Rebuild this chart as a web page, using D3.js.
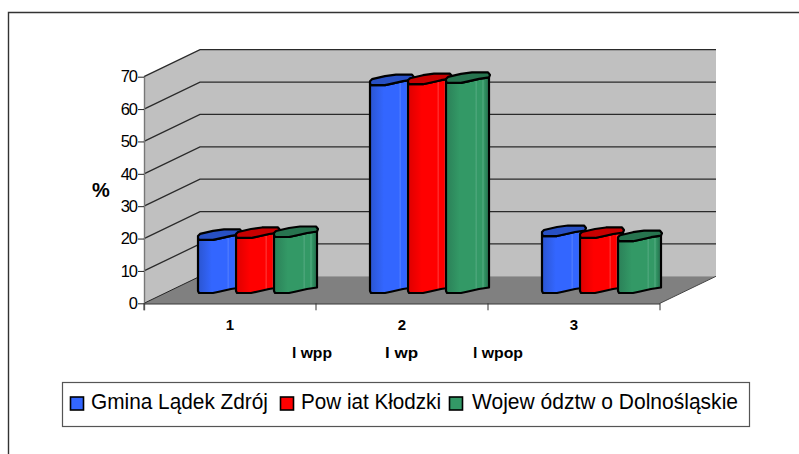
<!DOCTYPE html>
<html><head><meta charset="utf-8">
<script src="https://cdnjs.cloudflare.com/ajax/libs/d3/7.8.5/d3.min.js"></script>
<style>html,body{margin:0;padding:0;background:#fff}svg{display:block}text{font-family:"Liberation Sans",Arial,sans-serif;fill:#000}</style>
</head><body><svg id="c" width="799" height="454"></svg>
<script>
const categories = ["1","2","3"];
const seriesNames = ["Gmina Lądek Zdrój","Pow iat Kłodzki","Wojew ództw o Dolnośląskie"];
const gmina = [16.4, 64.2, 17.6];
const powiat = [17.0, 64.5, 17.0];
const wojewodztwo = [17.3, 64.9, 16.0];
const yTicks = [0,10,20,30,40,50,60,70];
const subLabels = ["l wpp","l wp","l wpop"];
const colors = ["#3366ff","#ff0000","#339966"];
const darkSide = ["#2b55d0","#dd0000","#2b8058"];
const topFace = ["#2850c4","#c80000","#27744f"];
const lightStripe = ["#5c86ff","#ff4a4a","#5cae88"];

const svg = d3.select("#c");
const left=144,right=660,y0=303.3,y70=76.7,dx=56,dy=27;
const y = d3.scaleLinear().domain([0,70]).range([y0,y70]);
const x = d3.scaleBand().domain(categories).range([left,right]);
const seriesX = d3.scaleBand().domain([0,1,2]).range([29,143]);

// outer frame
svg.append("path").attr("d","M8.5,454V12.5H799").attr("fill","none").attr("stroke","#333").attr("stroke-width",1.4);

// walls and floor
svg.append("path").attr("d",d3.line()([[left,y(70)],[left+dx,y(70)-dy],[left+dx,y(0)-dy],[left,y(0)]])).attr("fill","#c0c0c0");
svg.append("path").attr("d",d3.line()([[left+dx,y(70)-dy],[right+dx,y(70)-dy],[right+dx,y(0)-dy],[left+dx,y(0)-dy]])).attr("fill","#c0c0c0");
svg.append("path").attr("d",d3.line()([[left,y(0)],[left+dx,y(0)-dy],[right+dx,y(0)-dy],[right,y(0)]])).attr("fill","#808080");

// gridlines
svg.append("g").selectAll("path").data(yTicks.filter(t=>t>0)).join("path")
  .attr("d",t=>d3.line()([[left,y(t)],[left+dx,y(t)-dy],[right+dx,y(t)-dy]]))
  .attr("fill","none").attr("stroke","#2a2a2a").attr("stroke-width",1.3);
svg.append("path").attr("d",d3.line()([[left,y(0)],[left+dx,y(0)-dy]])).attr("fill","none").attr("stroke","#222").attr("stroke-width",1);
svg.append("path").attr("d",d3.line()([[right,y(0)],[right+dx,y(0)-dy]])).attr("fill","none").attr("stroke","#444").attr("stroke-width",1);

// axes
const yAxis = d3.axisLeft(y).tickValues(yTicks).tickSize(6).tickPadding(1);
const gy = svg.append("g").attr("transform",`translate(${left},0)`).call(yAxis);
gy.select(".domain").attr("stroke","#777").attr("stroke-width",1.4).attr("d",`M0.5,${y70}V${y0+7}`);
gy.selectAll(".tick line").attr("stroke","#222");
gy.selectAll(".tick text").attr("font-size",16.5).attr("font-family",'"Liberation Sans",Arial,sans-serif').attr("letter-spacing",-1).attr("fill","#000");

const xAxis = d3.axisBottom(x).tickValues([]).tickSize(0);
const gx = svg.append("g").attr("transform",`translate(0,${y0})`).call(xAxis);
gx.select(".domain").attr("stroke","#333").attr("stroke-width",1.2).attr("d",`M${left},0.5H${right}`);
const edges = categories.map(c=>x(c)+x.bandwidth()).concat([left]);
gx.selectAll("line.e").data(edges).join("line").attr("class","e")
  .attr("x1",d=>d).attr("x2",d=>d).attr("y1",0).attr("y2",7).attr("stroke","#333").attr("stroke-width",1);

svg.append("g").selectAll("text").data(categories).join("text")
  .attr("x",c=>x(c)+x.bandwidth()/2).attr("y",330).attr("text-anchor","middle")
  .attr("font-size",15).attr("font-weight","bold").text(c=>c);
const subW=[40,33,50];
svg.append("g").selectAll("text").data(subLabels).join("text")
  .attr("x",(d,i)=>[292,385,473][i]).attr("y",358)
  .attr("font-size",15).attr("font-weight","bold")
  .attr("textLength",(d,i)=>subW[i]).attr("lengthAdjust","spacingAndGlyphs").text(d=>d);

svg.append("text").attr("x",92).attr("y",197).attr("font-size",20).attr("font-weight","bold").text("%");

// gradients
const defs = svg.append("defs");
colors.forEach((c,i)=>{
  const g = defs.append("linearGradient").attr("id","g"+i).attr("x1",0).attr("x2",1).attr("y1",0).attr("y2",0);
  [[0,darkSide[i]],[0.32,c],[0.68,c],[0.7,lightStripe[i]],[0.72,c],[0.84,c],[0.86,lightStripe[i]],[0.88,c],[0.94,darkSide[i]],[1,darkSide[i]]]
    .forEach(s=>g.append("stop").attr("offset",s[0]).attr("stop-color",s[1]));
});

// cylinder-like bars: cross-section outline in px around the front-left corner
const frontChain=[[0,-2],[1,0],[15,0],[22,-1.5],[33,-4],[43,-5.5]];
const backChain=[[44,-8],[42,-10.5],[26,-10.5],[15,-9],[2,-6],[0,-4]];
const insetX=25,insetY=10.3;
const at=(pts,px,py)=>pts.map(p=>[px+p[0],py+p[1]]);
const line=d3.line();
const series=[gmina,powiat,wojewodztwo];
series.forEach((vals,si)=>{
  const g=svg.append("g");
  vals.forEach((v,ci)=>{
    const px=x(categories[ci])+seriesX(si)+insetX;
    const by=y(0)-insetY, ty=y(v)-insetY;
    const side=at(frontChain,px,by).concat(at(frontChain,px,ty).reverse());
    const g2=g.append("g").attr("stroke","#000").attr("stroke-width",2.2).attr("stroke-linejoin","round");
    g2.append("path").attr("d",line(side)+"Z").attr("fill",`url(#g${si})`);
    g2.append("path").attr("d",line(at(frontChain.concat(backChain),px,ty))+"Z").attr("fill",topFace[si]);
  });
});

// legend
svg.append("rect").attr("x",62.5).attr("y",382.5).attr("width",687).attr("height",44).attr("fill","#fff").attr("stroke","#555").attr("stroke-width",1.2);
const swatchX=[70.5,280.5,449.5], textX=[91,301,472], textW=[177,140,266];
const lg=svg.append("g").selectAll("g").data(seriesNames).join("g");
lg.append("rect").attr("x",(d,i)=>swatchX[i]).attr("y",397).attr("width",13).attr("height",13)
  .attr("fill",(d,i)=>colors[i]).attr("stroke","#000").attr("stroke-width",1.6);
lg.append("text").attr("x",(d,i)=>textX[i]).attr("y",409).attr("font-size",22)
  .attr("textLength",(d,i)=>textW[i]).attr("lengthAdjust","spacingAndGlyphs").text(d=>d);
</script></body></html>
